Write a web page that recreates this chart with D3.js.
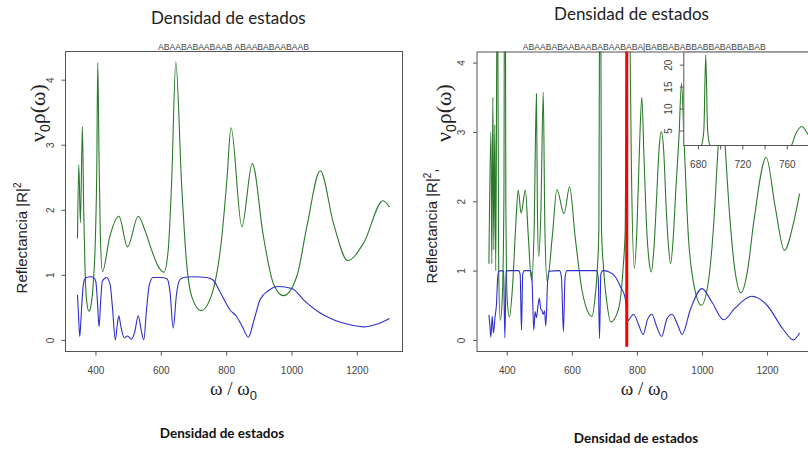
<!DOCTYPE html>
<html>
<head>
<meta charset="utf-8">
<title>Densidad de estados</title>
<script src="https://cdn.jsdelivr.net/npm/d3@7/dist/d3.min.js"></script>
<style>
  html, body { margin: 0; padding: 0; background: #ffffff; }
  svg { display: block; }
  .frame { fill: none; stroke: #555; stroke-width: 1; }
  .tick text { font-family: "Liberation Sans", Arial, sans-serif; font-size: 10px; fill: #444; }
  .tick line { stroke: #555; stroke-width: 1; }
</style>
</head>
<body>
<svg id="chart" width="808" height="449" xmlns="http://www.w3.org/2000/svg"></svg>
<script>
// ---------- axis ticks and labels ----------
const xTickValues = [400, 600, 800, 1000, 1200];
const yTickValues = [0, 1, 2, 3, 4];
const insetXTickValues = [680, 700, 720, 740, 760, 780];
const insetXLabelValues = [680, 720, 760];
const insetYTickValues = [5, 10, 15, 20];
const insetOmegaRange = [666.8, 781];
const insetDosRange = [1.7, 23.0];
const rightYRange = [0, 4];

const leftSequence = "ABAABABAABAAB ABAABABAABAAB";
const rightSequence = "ABAABABAABAABABAABABA|BABBABABBABBABABBABAB";
const markerOmega = 768.7;
const markerSpan = [-0.1, 4.3];

// ---------- left panel: density of states (green) ----------
const leftDosW = [345,349,354,360,364,368,373,380,387,393,400,404,407,411,415,421.5,444,472,498,531,551,572,592,609.5,622.7,633,646,663.5,679,694.5,723,756,786.5,802,815,848,880,914,945,975.5,1017,1047,1088,1129,1172,1221,1280,1300];
const leftDosV = [1.56,2.69,1.8,3.28,2.0,1.1,0.6,0.44,0.55,0.85,1.6,2.6,4.26,2.8,1.6,1.05,1.59,1.90,1.43,1.90,1.69,1.38,1.13,1.04,1.38,2.41,4.27,2.41,1.18,0.67,0.45,0.7,1.57,2.44,3.26,1.74,2.71,1.59,0.86,0.68,0.99,1.74,2.60,1.78,1.22,1.49,2.14,2.04];

// ---------- left panel: reflectance (blue) ----------
const leftReflW = [345,348,352,356,361,366,372,385,396,401,406,411,416,421,434,445,452,461,466,471.5,478,488,498,510,520,531,540,548,556,565,576,600,619,628,638,648,658,670,700,740,760,781,812,832,850,868,885,904,930,960,1001,1040,1083,1120,1150,1190,1220,1260,1300];
const leftReflV = [0.69,0.4,0.05,0.35,0.75,0.92,0.96,0.97,0.95,0.9,0.6,0.2,0.6,0.9,0.96,0.85,0.5,0.0,0.2,0.37,0.2,0.03,0.06,0.01,0.12,0.37,0.15,0.0,0.45,0.85,0.96,0.96,0.94,0.75,0.18,0.7,0.92,0.96,0.97,0.96,0.92,0.74,0.46,0.36,0.2,0.04,0.3,0.62,0.76,0.82,0.79,0.6,0.43,0.33,0.27,0.22,0.2,0.24,0.33];

// ---------- right panel: density of states (green) ----------
const rightDosW = [345,351,354,357,360,363,366,371,375,380,386,391,394,397,401,408,418,428,435,444,457,466,476,484,491,494,498,505,512,517,524,540,554,576,593,610,631,646,661.5,672,678,683,685.3,687,688.7,691,697,707.5,720,743,758,764,768,773.5,778,783,792,800,808,815,822,830,837,844,852,860,868,875,882,890,897,903.5,912,920,929,937,945,958,975,998,1020,1035,1051,1061,1070,1085,1100,1120,1140,1158.6,1197.5,1225,1253.5,1281,1300];
const rightDosV = [1.10,3.0,1.1,3.5,1.3,3.1,1.0,6,1.0,0.28,0.6,2.0,8,2.0,0.6,0.33,0.8,1.7,2.16,1.83,2.16,1.5,0.86,1.6,3.55,1.9,1.2,1.9,3.57,1.6,0.84,1.5,2.17,1.82,2.21,1.49,0.72,0.44,0.34,0.65,1.0,1.6,5,22.2,5,1.6,1.05,0.54,0.26,0.44,1.07,1.6,4.2,5.9,4.6,2.5,1.03,1.6,2.8,3.5,2.6,1.6,1.15,0.98,1.3,2.0,2.75,3.0,2.75,1.9,1.35,1.10,1.5,2.2,2.9,3.7,2.85,1.5,0.8,0.50,0.85,1.6,2.88,3.5,2.88,1.8,1.05,0.68,1.0,1.68,2.63,1.92,1.29,1.68,2.11];

// ---------- right panel: reflectance (blue) ----------
const rightReflW = [345,348,351,355,359,364,368,372,376,385,390,394,398,405,436,441,445,449,454,472,477,483,487,491,496,500,504,508,512,516,520,525,529,562,568,574,579,585,675,681,685,689,695,715,735,750,763,767,771,777,790,805,819,833,846,860,876,892,908,925,939,965,1000,1030,1067,1100,1153,1200,1250,1281,1300];
const rightReflV = [0.36,0.2,0.04,0.34,0.1,0.34,0.5,0.9,0.99,1.0,0.99,0.03,0.99,1.0,1.0,0.95,0.14,0.95,1.0,1.0,0.9,0.14,0.41,0.32,0.5,0.6,0.45,0.42,0.37,0.42,0.2,0.8,0.99,1.0,0.9,0.12,0.9,1.0,1.0,0.9,0.02,0.95,1.0,0.98,0.9,0.76,0.62,0.5,0.27,0.3,0.37,0.22,0.08,0.3,0.37,0.2,0.05,0.3,0.37,0.22,0.08,0.45,0.74,0.55,0.29,0.45,0.63,0.5,0.15,0.0,0.10];

// ---------- drawing ----------
const svg = d3.select("#chart");
const defs = svg.append("defs");
const dosColor = "#2b7a2b";
const reflColor = "#2e2ecc";
const sansFont = '"Liberation Sans", Arial, sans-serif';
const serifFont = '"Liberation Serif", "Times New Roman", serif';
const titleFont = 'Lato, "Open Sans", sans-serif';

const zip = (ws, vs) => ws.map((w, i) => [w, vs[i]]);
// 4% margin on each side of the data range, as in base R plots
const padded = ([a, b]) => { const d = (b - a) * 0.04; return [a - d, b + d]; };

function addClip(id, x0, y0, x1, y1) {
  defs.append("clipPath").attr("id", id)
    .append("rect").attr("x", x0).attr("y", y0).attr("width", x1 - x0).attr("height", y1 - y0);
  return `url(#${id})`;
}

function drawPanel(p) {
  const x = d3.scaleLinear().domain(padded(p.xExtent)).range([p.left, p.right]);
  const y = d3.scaleLinear().domain(padded(p.yExtent)).range([p.bottom, p.top]);
  const g = svg.append("g");
  const clip = addClip("clip-" + p.id, p.left, p.top, p.right, p.bottom);
  const line = d3.line().x(d => x(d[0])).y(d => y(d[1])).curve(d3.curveMonotoneX);
  const plot = g.append("g").attr("clip-path", clip);
  plot.append("path").datum(p.dos).attr("d", line)
    .attr("fill", "none").attr("stroke", dosColor).attr("stroke-width", 1.1);
  plot.append("path").datum(p.refl).attr("d", line)
    .attr("fill", "none").attr("stroke", reflColor).attr("stroke-width", 1.1);

  g.append("rect").attr("class", "frame")
    .attr("x", p.left + 0.5).attr("y", p.top + 0.5)
    .attr("width", p.right - p.left).attr("height", p.bottom - p.top);

  const xa = g.append("g").attr("transform", `translate(0,${p.bottom + 0.5})`)
    .call(d3.axisBottom(x).tickValues(xTickValues).tickSize(4).tickPadding(11).tickFormat(d3.format("d")));
  xa.select(".domain").remove();

  const ya = g.append("g").attr("transform", `translate(${p.left + 0.5},0)`)
    .call(d3.axisLeft(y).tickValues(yTickValues).tickSize(4).tickFormat(d3.format("d")));
  ya.select(".domain").remove();
  ya.selectAll(".tick text")
    .attr("x", null).attr("dy", null).attr("text-anchor", "middle")
    .attr("transform", "translate(-12,0) rotate(-90)");

  // sequence label above the frame
  g.append("text").attr("x", (p.left + Math.min(p.right, 808 + (p.right - 808))) / 2).attr("y", 49.5)
    .attr("text-anchor", "middle").attr("font-family", sansFont).attr("font-size", 8.6)
    .attr("fill", "#444").text(p.sequence);

  // x-axis title  ω / ω0
  const xt = g.append("text").attr("x", (p.left + p.right) / 2).attr("y", 395)
    .attr("text-anchor", "middle").attr("font-family", serifFont).attr("font-size", 19).attr("fill", "#222");
  xt.append("tspan").text("ω / ω");
  xt.append("tspan").attr("dy", 5).attr("font-size", 13).attr("font-family", sansFont).text("0");

  // y-axis title, two pieces
  const yt1 = g.append("text").attr("transform", `translate(${p.ylabX},${p.ylabY}) rotate(-90)`)
    .attr("text-anchor", "middle").attr("font-family", sansFont).attr("font-size", 15).attr("fill", "#222");
  yt1.append("tspan").text("Reflectancia |R|");
  yt1.append("tspan").attr("dy", -6).attr("font-size", 10).text("2");
  if (p.comma) yt1.append("tspan").attr("dy", 6).text(", ");

  const yt2 = g.append("text").attr("transform", `translate(${p.nuX},113) rotate(-90)`)
    .attr("text-anchor", "middle").attr("font-family", serifFont).attr("font-size", 22).attr("fill", "#222");
  yt2.append("tspan").text("ν");
  yt2.append("tspan").attr("dy", 5).attr("font-size", 14).attr("font-family", sansFont).text("0");
  yt2.append("tspan").attr("dy", -5).text("ρ(ω)");

  return { x, y, g };
}

// left panel: y range follows the data
const leftDos = zip(leftDosW, leftDosV);
const leftRefl = zip(leftReflW, leftReflV);
drawPanel({
  id: "left", left: 65, right: 402, top: 51, bottom: 351,
  xExtent: d3.extent(leftDosW.concat(leftReflW)),
  yExtent: d3.extent(leftDosV.concat(leftReflV)),
  dos: leftDos, refl: leftRefl, sequence: leftSequence,
  ylabX: 26.5, ylabY: 238, nuX: 45, comma: false
});

// right panel: y range fixed to [0, 4]
const rightDos = zip(rightDosW, rightDosV);
const rightRefl = zip(rightReflW, rightReflV);
const R = drawPanel({
  id: "right", left: 476.5, right: 812, top: 51.5, bottom: 351,
  xExtent: d3.extent(rightDosW.concat(rightReflW)),
  yExtent: rightYRange,
  dos: rightDos, refl: rightRefl, sequence: rightSequence,
  ylabX: 437, ylabY: 226, nuX: 451, comma: true
});

// vertical marker at the selected frequency
R.g.append("line")
  .attr("clip-path", "url(#clip-right)")
  .attr("x1", R.x(markerOmega)).attr("x2", R.x(markerOmega))
  .attr("y1", R.y(markerSpan[0])).attr("y2", R.y(markerSpan[1]))
  .attr("stroke", "#ff0000").attr("stroke-width", 3);

// inset: zoom on the density of states around the marker
const inLeft = 683.3, inRight = 810.1, inTop = 51.5, inBottom = 145;
const ix = d3.scaleLinear().domain(insetOmegaRange).range([inLeft, inRight]);
const iy = d3.scaleLinear().domain(insetDosRange).range([inBottom, inTop]);
const inset = svg.append("g");
inset.append("rect").attr("x", inLeft).attr("y", inTop).attr("width", inRight - inLeft + 10)
  .attr("height", inBottom - inTop).attr("fill", "#fff");
const inClip = addClip("clip-inset", inLeft, inTop, inRight + 10, inBottom);
inset.append("path").datum(rightDos.filter(d => d[0] >= 640 && d[0] <= 800))
  .attr("clip-path", inClip)
  .attr("d", d3.line().x(d => ix(d[0])).y(d => iy(d[1])).curve(d3.curveMonotoneX))
  .attr("fill", "none").attr("stroke", dosColor).attr("stroke-width", 1.1);
inset.append("rect").attr("class", "frame")
  .attr("x", inLeft + 0.5).attr("y", inTop + 0.5)
  .attr("width", inRight - inLeft + 20).attr("height", inBottom - inTop);
const ixa = inset.append("g").attr("transform", `translate(0,${inBottom + 0.5})`)
  .call(d3.axisBottom(ix).tickValues(insetXTickValues).tickSize(4).tickPadding(11)
    .tickFormat(d => insetXLabelValues.includes(d) ? d : ""));
ixa.select(".domain").remove();
const iya = inset.append("g").attr("transform", `translate(${inLeft + 0.5},0)`)
  .call(d3.axisLeft(iy).tickValues(insetYTickValues).tickSize(4));
iya.select(".domain").remove();
iya.selectAll(".tick text")
  .attr("x", null).attr("dy", null).attr("text-anchor", "middle")
  .attr("transform", "translate(-12,0) rotate(-90)");

// headings
svg.append("text").attr("x", 228.3).attr("y", 24).attr("text-anchor", "middle")
  .attr("font-family", titleFont).attr("font-size", 17).attr("fill", "#222").text("Densidad de estados");
svg.append("text").attr("x", 631.5).attr("y", 20).attr("text-anchor", "middle")
  .attr("font-family", titleFont).attr("font-size", 17).attr("fill", "#222").text("Densidad de estados");
svg.append("text").attr("x", 222).attr("y", 438).attr("text-anchor", "middle")
  .attr("font-family", titleFont).attr("font-weight", "bold").attr("font-size", 13.5).attr("fill", "#111").text("Densidad de estados");
svg.append("text").attr("x", 636).attr("y", 443).attr("text-anchor", "middle")
  .attr("font-family", titleFont).attr("font-weight", "bold").attr("font-size", 13.5).attr("fill", "#111").text("Densidad de estados");
</script>
</body>
</html>
